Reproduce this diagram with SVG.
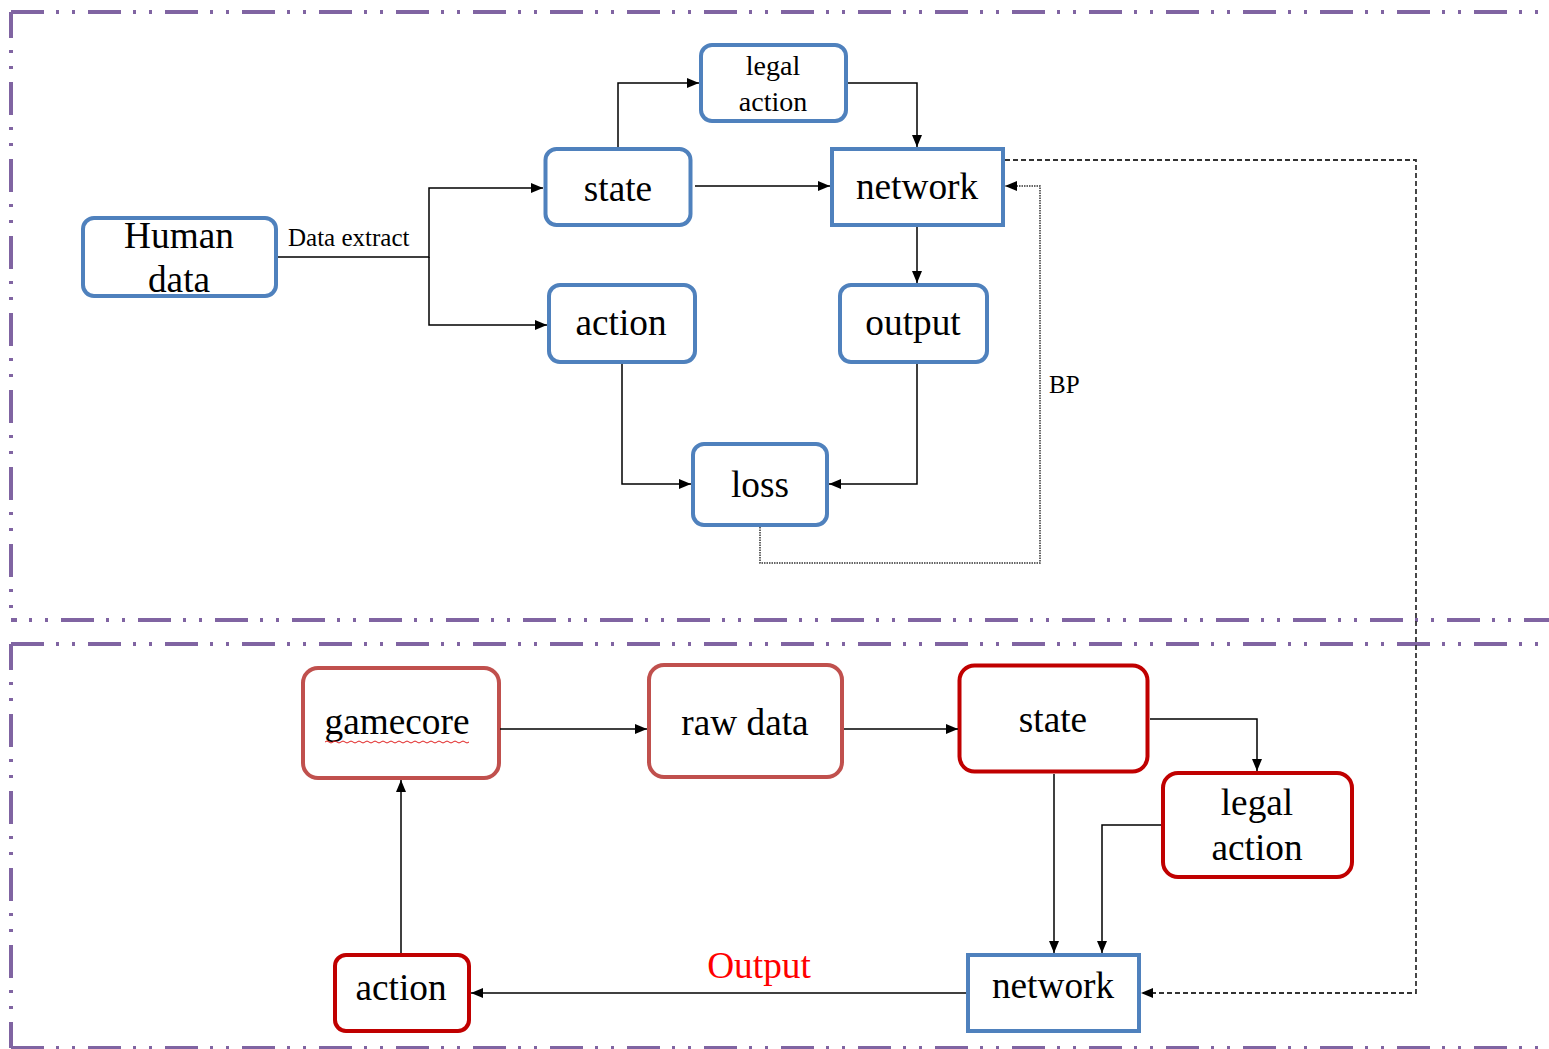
<svg xmlns="http://www.w3.org/2000/svg" width="1549" height="1049" viewBox="0 0 1549 1049">
<style>
.frame{fill:none;stroke:#8064A2;stroke-width:4;stroke-dasharray:33 12 3 13 3 13}
.nb{fill:#fff;stroke:#4F81BD;stroke-width:4}
.nr{fill:#fff;stroke:#C0504D;stroke-width:4}
.nd{fill:#fff;stroke:#C00000;stroke-width:4}
.t{font-family:"Liberation Serif","Times New Roman",serif;font-size:37.3px;fill:#000;text-anchor:middle}
.ts{font-family:"Liberation Serif","Times New Roman",serif;font-size:28px;fill:#000;text-anchor:middle}
.tl{font-family:"Liberation Serif","Times New Roman",serif;font-size:25px;fill:#000}
.c{fill:none;stroke:#000;stroke-width:1.5}
.dot{fill:none;stroke:#333;stroke-width:1.5;stroke-dasharray:1.5 1}
.dash{fill:none;stroke:#333;stroke-width:1.8;stroke-dasharray:5 3}
</style>
<defs>
<marker id="ah" markerUnits="userSpaceOnUse" markerWidth="12" markerHeight="10" refX="12" refY="5" orient="auto">
<path d="M0,0 L12,5 L0,10 z" fill="#000"/>
</marker>
</defs>
<rect width="1549" height="1049" fill="#fff"/>
<g id="frames">
<path class="frame" d="M11,12 H1560"/>
<path class="frame" d="M11,12 V620" stroke-dashoffset="7"/>
<path class="frame" d="M11,620 H1560" stroke-dashoffset="27"/>
<path class="frame" d="M11,644 H1560"/>
<path class="frame" d="M11,644 V1048" stroke-dashoffset="7"/>
<path class="frame" d="M11,1048 H1560"/>
</g>
<g id="n-human">
<rect class="nb" x="83" y="218" width="193" height="78" rx="11"/>
<text class="t" x="179" y="248">Human</text>
<text class="t" x="179" y="292">data</text>
</g>
<g id="n-legal-top">
<rect class="nb" x="701" y="45" width="145" height="76" rx="11"/>
<text class="ts" x="773" y="75">legal</text>
<text class="ts" x="773" y="111">action</text>
</g>
<g id="n-state-top">
<rect class="nb" x="545.5" y="149" width="145" height="76" rx="11"/>
<text class="t" x="618" y="201">state</text>
</g>
<g id="n-network-top">
<rect class="nb" x="832" y="149" width="171" height="76"/>
<text class="t" x="917" y="199">network</text>
</g>
<g id="n-action-top">
<rect class="nb" x="549" y="285" width="146" height="77" rx="11"/>
<text class="t" x="621" y="335">action</text>
</g>
<g id="n-output">
<rect class="nb" x="840" y="285" width="147" height="77" rx="11"/>
<text class="t" x="913" y="335">output</text>
</g>
<g id="n-loss">
<rect class="nb" x="693" y="444" width="134" height="81" rx="11"/>
<text class="t" x="760" y="497">loss</text>
</g>
<g id="n-gamecore">
<rect class="nr" x="303" y="668" width="196" height="110" rx="15"/>
<text class="t" x="397" y="734">gamecore</text>
<path d="M325,742 q2,-2 4,0 t4,0 t4,0 t4,0 t4,0 t4,0 t4,0 t4,0 t4,0 t4,0 t4,0 t4,0 t4,0 t4,0 t4,0 t4,0 t4,0 t4,0 t4,0 t4,0 t4,0 t4,0 t4,0 t4,0 t4,0 t4,0 t4,0 t4,0 t4,0 t4,0 t4,0 t4,0 t4,0 t4,0 t4,0 t4,0" fill="none" stroke="#E02020" stroke-width="1"/>
</g>
<g id="n-rawdata">
<rect class="nr" x="649" y="665" width="193" height="112" rx="15"/>
<text class="t" x="745" y="735">raw data</text>
</g>
<g id="n-state-bottom">
<rect class="nd" x="959.5" y="665.5" width="188" height="106" rx="15"/>
<text class="t" x="1053" y="732">state</text>
</g>
<g id="n-legal-bottom">
<rect class="nd" x="1163" y="773" width="189" height="104" rx="15"/>
<text class="t" x="1257" y="815">legal</text>
<text class="t" x="1257" y="860">action</text>
</g>
<g id="n-network-bottom">
<rect class="nb" x="968" y="955" width="171" height="76"/>
<text class="t" x="1053" y="998">network</text>
</g>
<g id="n-action-bottom">
<rect class="nd" x="335" y="955" width="134" height="76" rx="11"/>
<text class="t" x="401" y="1000">action</text>
</g>
<g id="connectors">
<path class="c" d="M278,257 H429 V188 H543" marker-end="url(#ah)"/>
<path class="c" d="M429,257 V325 H547" marker-end="url(#ah)"/>
<path class="c" d="M618,147 V83 H699" marker-end="url(#ah)"/>
<path class="c" d="M848,83 H917 V147" marker-end="url(#ah)"/>
<path class="c" d="M695,186 H830" marker-end="url(#ah)"/>
<path class="c" d="M917,227 V283" marker-end="url(#ah)"/>
<path class="c" d="M622,364 V484 H691" marker-end="url(#ah)"/>
<path class="c" d="M917,364 V484 H829" marker-end="url(#ah)"/>
<path class="dot" d="M760,527 V563 H1040 V186 H1005" marker-end="url(#ah)"/>
<path class="dash" d="M1005,160 H1416 V993 H1141" marker-end="url(#ah)"/>
<path class="c" d="M500,729 H647" marker-end="url(#ah)"/>
<path class="c" d="M844,729 H958" marker-end="url(#ah)"/>
<path class="c" d="M1150,719 H1257 V771" marker-end="url(#ah)"/>
<path class="c" d="M1161,825 H1102 V953" marker-end="url(#ah)"/>
<path class="c" d="M1054,774 V953" marker-end="url(#ah)"/>
<path class="c" d="M966,993 H471" marker-end="url(#ah)"/>
<path class="c" d="M401,953 V780" marker-end="url(#ah)"/>
<text class="tl" x="288" y="246">Data extract</text>
<text class="tl" x="1049" y="393">BP</text>
<text class="t" x="759" y="978" style="fill:#FF0000">Output</text>
</g>
</svg>
